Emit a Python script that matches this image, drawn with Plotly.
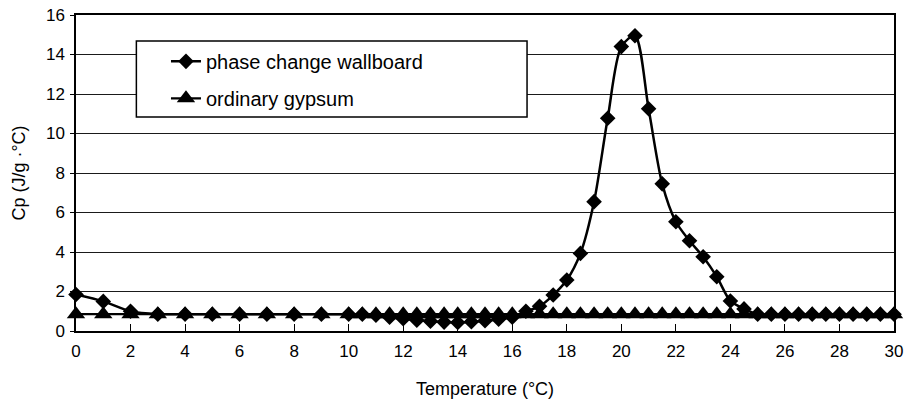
import plotly.graph_objects as go

# Temperature (°C) sample points
temps = [0, 1, 2, 3, 4, 5, 6, 7, 8, 9, 10,
         10.5, 11, 11.5, 12, 12.5, 13, 13.5, 14, 14.5, 15, 15.5, 16, 16.5,
         17, 17.5, 18, 18.5, 19, 19.5, 20, 20.5, 21, 21.5, 22, 22.5, 23, 23.5,
         24, 24.5, 25, 25.5, 26, 26.5, 27, 27.5, 28, 28.5, 29, 29.5, 30]

# Cp (J/g·°C) of phase change wallboard
cp_pcm = [1.85, 1.5, 1.0, 0.85, 0.85, 0.85, 0.85, 0.85, 0.85, 0.85, 0.85,
          0.85, 0.8, 0.7, 0.62, 0.55, 0.5, 0.45, 0.43, 0.47, 0.52, 0.6, 0.7, 1.0,
          1.25, 1.82, 2.58, 3.93, 6.55, 10.77, 14.4, 14.95, 11.25, 7.45, 5.53, 4.57, 3.76, 2.75,
          1.52, 1.12, 0.85, 0.85, 0.85, 0.85, 0.85, 0.85, 0.85, 0.85, 0.85, 0.85, 0.85]

# Cp (J/g·°C) of ordinary gypsum
cp_gyp = [0.85, 0.85, 0.85, 0.85, 0.85, 0.85, 0.85, 0.85, 0.85, 0.85, 0.85,
          0.85, 0.85, 0.85, 0.85, 0.85, 0.85, 0.85, 0.85, 0.85, 0.85, 0.85, 0.85, 0.85,
          0.85, 0.85, 0.85, 0.85, 0.85, 0.85, 0.85, 0.85, 0.85, 0.85, 0.85, 0.85, 0.85, 0.85,
          0.85, 0.85, 0.85, 0.85, 0.85, 0.85, 0.85, 0.85, 0.85, 0.85, 0.85, 0.85, 0.85]

x_ticks = [0, 2, 4, 6, 8, 10, 12, 14, 16, 18, 20, 22, 24, 26, 28, 30]
y_ticks = [0, 2, 4, 6, 8, 10, 12, 14, 16]

FONT = "Liberation Sans, Arial, sans-serif"

fig = go.Figure()
fig.add_trace(go.Scatter(
    x=temps, y=cp_pcm, name="phase change wallboard", mode="lines+markers",
    line=dict(color="black", width=2.5, shape="spline", smoothing=0.8),
    marker=dict(symbol="diamond", size=12, color="black"),
    cliponaxis=False, legendgroup="a",
))
fig.add_trace(go.Scatter(
    x=temps, y=cp_gyp, name="ordinary gypsum", mode="lines+markers",
    line=dict(color="black", width=2.2),
    marker=dict(symbol="triangle-up", size=16, color="black"),
    cliponaxis=False, legendgroup="b",
))

fig.update_layout(
    width=909, height=403,
    margin=dict(l=76, r=6, t=15, b=72),
    paper_bgcolor="white", plot_bgcolor="white",
    font=dict(family=FONT, color="black", size=17),
    showlegend=True,
    legend=dict(
        x=0.11, y=0.915, xanchor="left", yanchor="top",
        bgcolor="rgba(0,0,0,0)", borderwidth=0,
        font=dict(family=FONT, size=20, color="black"),
        tracegroupgap=8,
    ),
    shapes=[dict(
        type="rect", xref="paper", yref="paper",
        x0=0.0738, x1=0.5514, y0=0.677, y1=0.9177,
        line=dict(color="black", width=1.5), fillcolor="white", layer="above",
    )],
)

fig.update_xaxes(
    range=[0, 30], tickvals=x_ticks, ticktext=[str(v) for v in x_ticks],
    showgrid=False, zeroline=False,
    showline=True, linecolor="black", linewidth=1.5, mirror=True,
    ticks="inside", ticklen=7, tickcolor="black",
    tickfont=dict(family=FONT, size=17), ticklabelstandoff=4,
    ticklabeloverflow="allow",
    title=dict(text="Temperature (°C)", font=dict(family=FONT, size=18), standoff=22),
)
fig.update_yaxes(
    range=[0, 16], tickvals=y_ticks, ticktext=[str(v) for v in y_ticks],
    showgrid=True, gridcolor="#1a1a1a", gridwidth=1, zeroline=False,
    showline=True, linecolor="black", linewidth=1.5, mirror=True,
    ticks="outside", ticklen=4, tickcolor="black",
    tickfont=dict(family=FONT, size=17), ticklabelstandoff=2,
    title=dict(text="Cp (J/g ·°C)", font=dict(family=FONT, size=18), standoff=16),
)

fig.write_html("out.html")
